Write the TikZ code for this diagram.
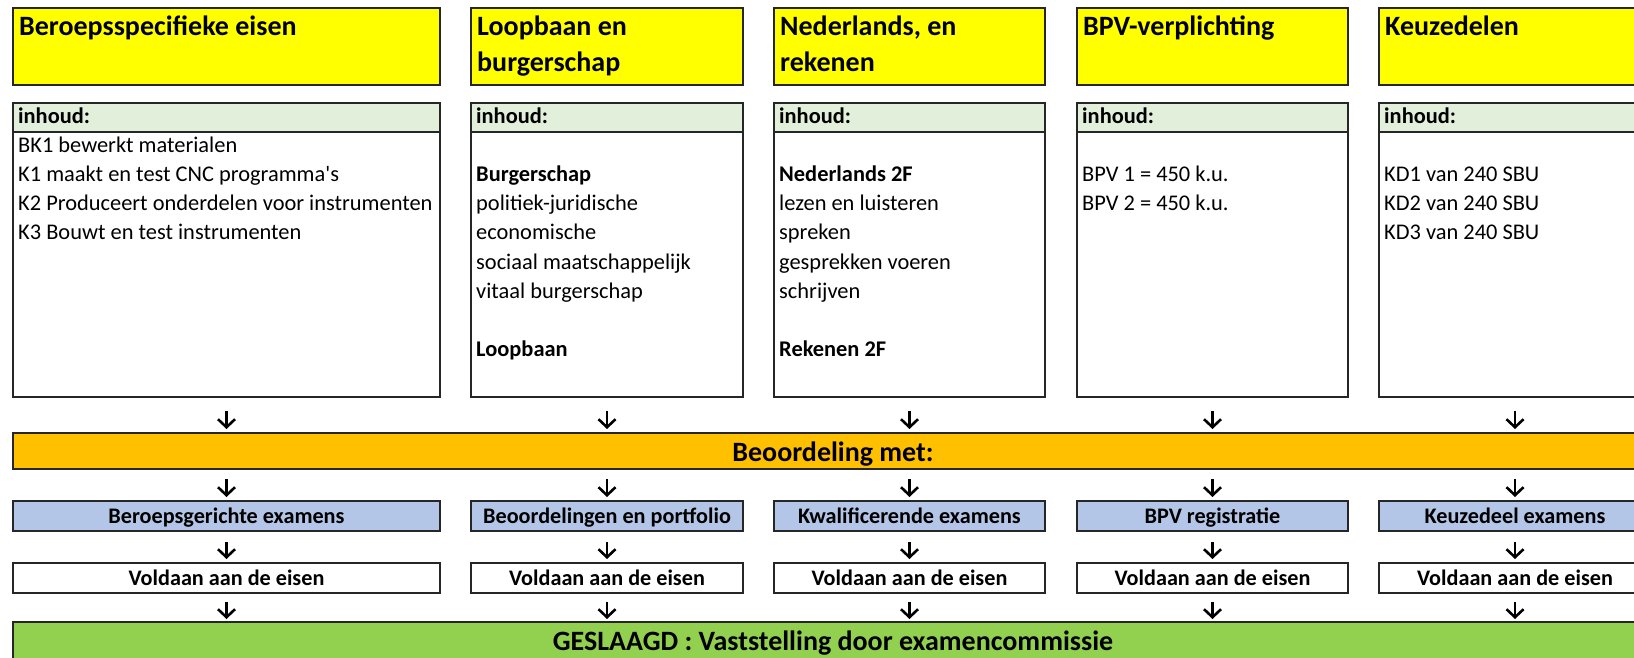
\documentclass[tikz,border=0pt]{standalone}
\usepackage{fontspec}
\setmainfont{Carlito}[Ligatures=TeXOff]
\usetikzlibrary{arrows.meta}
\definecolor{ylw}{HTML}{FFFF00}
\definecolor{hdrg}{HTML}{E2EFDA}
\definecolor{orng}{HTML}{FFC000}
\definecolor{blu}{HTML}{B4C6E7}
\definecolor{grn}{HTML}{92D050}
\definecolor{bord}{HTML}{262626}
\begin{document}
\begin{tikzpicture}[x=1pt,y=-1pt,
  box/.style={draw=bord, line width=1.4pt, anchor=north west, inner sep=0pt, outer sep=0pt},
  ttl/.style={anchor=base west, inner sep=0pt, font=\fontsize{28}{34}\selectfont\bfseries},
  txt/.style={anchor=base west, inner sep=0pt, font=\fontsize{22.4}{29}\selectfont},
  txtb/.style={anchor=base west, inner sep=0pt, font=\fontsize{22.4}{29}\selectfont\bfseries},
  ctr/.style={anchor=base, inner sep=0pt, font=\fontsize{22.2}{29}\selectfont\bfseries},
  ctrbig/.style={anchor=base, inner sep=0pt, font=\fontsize{28}{34}\selectfont\bfseries},
  arr/.style={line width=2.6pt, -{Straight Barb[length=8pt,width=17pt]}}
]
\useasboundingbox (0,0) rectangle (1634,658);
\clip (0,0) rectangle (1634,658);
\fill[white] (0,0) rectangle (1634,658);

\foreach \n/\L/\W in {1/13/427, 2/471/272, 3/774/271, 4/1077/271, 5/1379/272}{
  \node[box, fill=ylw,  minimum width=\W pt, minimum height=77pt]  (y\n) at (\L,8) {};
  \node[box, fill=hdrg, minimum width=\W pt, minimum height=29pt]  (h\n) at (\L,103) {};
  \node[box, fill=white,minimum width=\W pt, minimum height=265pt] (w\n) at (\L,132) {};
  \node[box, fill=blu,  minimum width=\W pt, minimum height=30pt]  (e\n) at (\L,501) {};
  \node[box, fill=white,minimum width=\W pt, minimum height=30pt]  (v\n) at (\L,563) {};
  \node[txtb] at (\L+5,124) {inhoud:};
}
\node[box, fill=orng, minimum width=1640pt, minimum height=36pt] (beo) at (13,433) {};
\node[box, fill=grn,  minimum width=1640pt, minimum height=50pt] (ges) at (13,622) {};

% titles
\node[ttl] at (19,36) {Beroepsspecifieke eisen};
\node[ttl] at (477,36) {Loopbaan en};
\node[ttl] at (477,72) {burgerschap};
\node[ttl] at (780,36) {Nederlands, en};
\node[ttl] at (780,72) {rekenen};
\node[ttl] at (1083,36) {BPV-verplichting};
\node[ttl] at (1385,36) {Keuzedelen};

% column 1
\node[txt] at (18,153) {BK1 bewerkt materialen};
\node[txt] at (18,182) {K1 maakt en test CNC programma's};
\node[txt] at (18,211) {K2 Produceert onderdelen voor instrumenten};
\node[txt] at (18,240) {K3 Bouwt en test instrumenten};
% column 2
\node[txtb] at (476,182) {Burgerschap};
\node[txt] at (476,211) {politiek-juridische};
\node[txt] at (476,240) {economische};
\node[txt] at (476,269) {sociaal maatschappelijk};
\node[txt] at (476,298) {vitaal burgerschap};
\node[txtb] at (476,356) {Loopbaan};
% column 3
\node[txtb] at (779,182) {Nederlands 2F};
\node[txt] at (779,211) {lezen en luisteren};
\node[txt] at (779,240) {spreken};
\node[txt] at (779,269) {gesprekken voeren};
\node[txt] at (779,298) {schrijven};
\node[txtb] at (779,356) {Rekenen 2F};
% column 4
\node[txt] at (1082,182) {BPV 1 = 450 k.u.};
\node[txt] at (1082,211) {BPV 2 = 450 k.u.};
% column 5
\node[txt] at (1384,182) {KD1 van 240 SBU};
\node[txt] at (1384,211) {KD2 van 240 SBU};
\node[txt] at (1384,240) {KD3 van 240 SBU};

% bars
\node[ctrbig] at ([yshift=8pt]beo.south) {Beoordeling met:};
\node[ctrbig] at ([yshift=-28pt]ges.north) {GESLAAGD : Vaststelling door examencommissie};

% blue boxes
\node[ctr] at ([yshift=8pt]e1.south) {Beroepsgerichte examens};
\node[ctr] at ([yshift=8pt]e2.south) {Beoordelingen en portfolio};
\node[ctr] at ([yshift=8pt]e3.south) {Kwalificerende examens};
\node[ctr] at ([yshift=8pt]e4.south) {BPV registratie};
\node[ctr] at ([yshift=8pt]e5.south) {Keuzedeel examens};

\foreach \n in {1,...,5}{
  \node[ctr] at ([yshift=8pt]v\n.south) {Voldaan aan de eisen};
  \draw[arr, shorten <=14pt, shorten >=4pt] (w\n.south) -- (w\n.south |- beo.north);
  \draw[arr, shorten <=10pt, shorten >=4pt] (w\n.south |- beo.south) -- (e\n.north);
  \draw[arr, shorten <=11pt, shorten >=4pt] (e\n.south) -- (v\n.north);
  \draw[arr, shorten <=9pt, shorten >=3pt] (v\n.south) -- (v\n.south |- ges.north);
}
\end{tikzpicture}
\end{document}
